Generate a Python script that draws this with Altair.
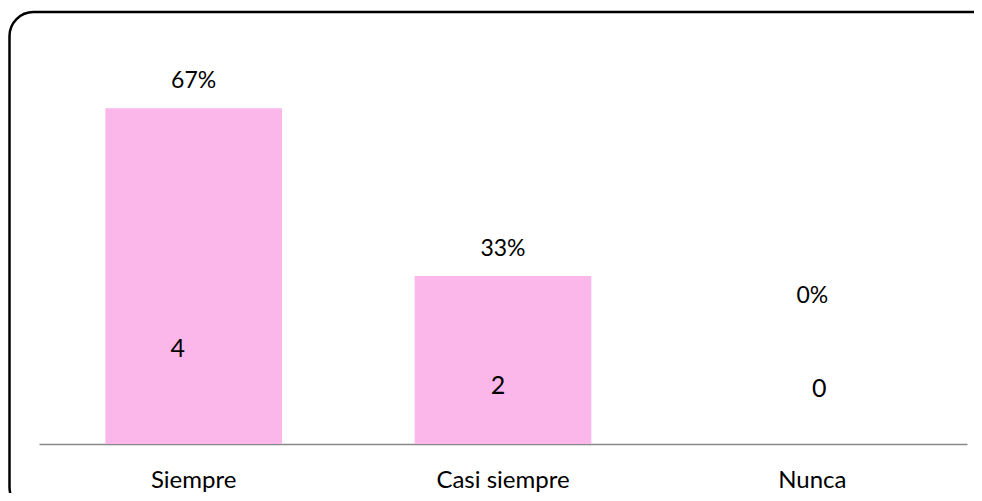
import altair as alt
import pandas as pd

# --- data ---
categories = ["Siempre", "Casi siempre", "Nunca"]
counts = [4, 2, 0]
percents = [66.67, 33.33, 0.0]

# label anchors (in percent-axis units) as placed in the original
pct_label_at = [66.67, 33.33, 24.1]
count_label_at = [18.8, 11.5, 11.0]
count_label_dx = [-16, -5, 7]

df = pd.DataFrame({
    "cat": categories,
    "count": counts,
    "pct": percents,
    "pct_text": [f"{round(p)}%" for p in percents],
    "count_text": [str(c) for c in counts],
    "pct_at": pct_label_at,
    "count_at": count_label_at,
})

FONT = "Lato"
W, H = 928, 403

x = alt.X("cat:N", sort=categories, title=None,
          scale=alt.Scale(paddingInner=0.429, paddingOuter=0.2145),
          axis=alt.Axis(labelAngle=0, ticks=False, tickSize=0, domainColor="#898989",
                        domainWidth=1.5, labelFont=FONT, labelFontSize=24,
                        labelColor="#000000", labelPadding=43,
                        labelBaseline="alphabetic", grid=False))
yscale = alt.Scale(domain=[0, 80], nice=False, zero=True)

bars = alt.Chart(df).mark_bar(color="#FBB6EA").encode(
    x=x,
    y=alt.Y("pct:Q", scale=yscale, axis=None),
)

pct_labels = alt.Chart(df).mark_text(font=FONT, fontSize=23, color="#000000",
                                     baseline="middle", dy=-27).encode(
    x=alt.X("cat:N", sort=categories),
    y=alt.Y("pct_at:Q", scale=yscale),
    text="pct_text:N",
)

count_layers = []
for i in range(len(categories)):
    count_layers.append(
        alt.Chart(df.iloc[[i]]).mark_text(font=FONT, fontSize=25, color="#000000",
                                          baseline="middle", dx=count_label_dx[i]).encode(
            x=alt.X("cat:N", sort=categories),
            y=alt.Y("count_at:Q", scale=yscale),
            text="count_text:N",
        )
    )

border = alt.Chart(alt.Data(values=[{"a": 1}])).mark_rect(
    fill="transparent", stroke="#000000", strokeWidth=2.5, cornerRadius=24
).encode(
    x=alt.value(-29.5), x2=alt.value(958),
    y=alt.value(-29), y2=alt.value(470),
)

chart = alt.layer(border, bars, pct_labels, *count_layers).resolve_scale(
    x="shared", y="shared"
).properties(
    width=W, height=H,
    autosize=alt.AutoSizeParams(type="none"),
    padding={"left": 31, "top": 33, "right": 7, "bottom": 49},
    background="#ffffff",
).configure_view(stroke=None)

chart.save("out.html", embed_options={"renderer": "svg", "actions": False})
